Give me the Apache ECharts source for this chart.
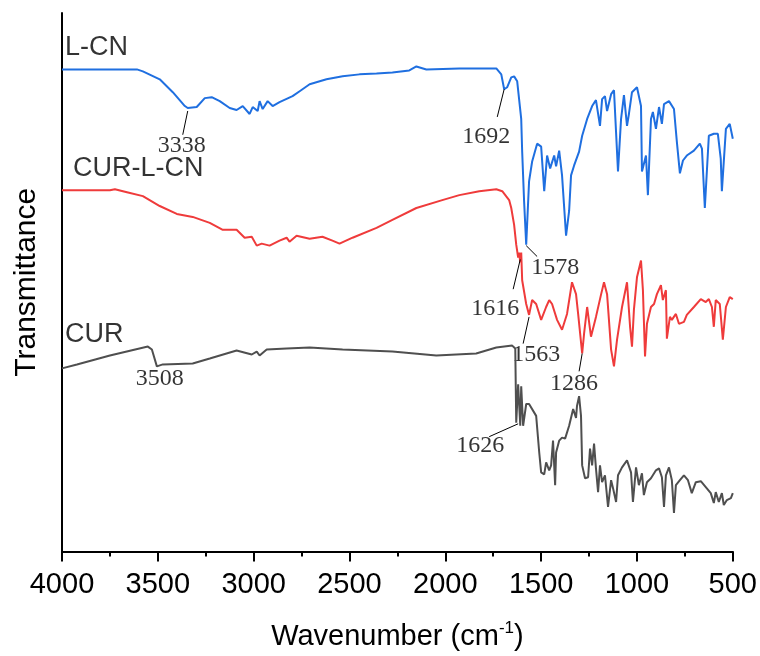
<!DOCTYPE html>
<html>
<head>
<meta charset="utf-8">
<script src="https://cdn.jsdelivr.net/npm/echarts@6/dist/echarts.min.js"></script>
<style>
  html, body { margin: 0; padding: 0; background: #fff; }
  #main { width: 760px; height: 656px; }
</style>
</head>
<body>
<div id="main"></div>
<script>
// FTIR spectra, [wavenumber, transmittance (offset, arb. units)]
const lcn = [
  [4000,487],[3609,487],[3578,485],[3490,477],[3422,464],[3359,450],[3344,448],[3297,449],
  [3255,458],[3219,459],[3177,455],[3125,448],[3089,446],[3057,450],[3021,442],[3005,449],
  [2979,445],[2969,455],[2953,447],[2927,455],[2901,450],[2865,454],[2797,460],[2760,465],
  [2708,472],[2620,477],[2536,480],[2448,482],[2359,483],[2276,484],[2188,486],[2151,490],
  [2099,487],[1927,488],[1734,488],[1708,482],[1693,467],[1677,469],[1656,479],[1641,480],
  [1625,475],[1604,437],[1599,404],[1589,354],[1578,310],[1563,374],[1547,394],[1521,412],
  [1500,409],[1484,364],[1469,400],[1453,387],[1432,400],[1422,389],[1406,405],[1391,380],
  [1370,319],[1354,344],[1344,380],[1328,390],[1302,404],[1286,420],[1260,437],[1234,450],
  [1214,456],[1193,430],[1182,457],[1167,460],[1156,445],[1135,462],[1120,466],[1099,384],
  [1083,437],[1068,461],[1052,430],[1042,442],[1026,464],[1000,469],[979,450],[974,384],
  [953,400],[943,360],[927,437],[917,444],[901,427],[885,449],[870,432],[859,452],
  [833,455],[807,447],[792,414],[776,382],[760,395],[740,400],[703,405],[672,412],
  [661,407],[646,347],[625,420],[599,422],[578,422],[563,397],[557,364],[536,427],
  [516,432],[500,417]
]

const curlcn = [
  [4000,365],[3750,365],[3724,366],[3661,363],[3578,359],[3490,349],[3401,341],[3318,338],
  [3229,332],[3161,325],[3089,325],[3047,317],[3010,318],[2984,309],[2958,311],[2917,309],
  [2865,314],[2828,317],[2813,313],[2776,319],[2708,316],[2641,318],[2589,314],[2552,311],
  [2484,317],[2359,327],[2276,335],[2151,347],[2016,355],[1927,360],[1823,364],[1734,366],
  [1703,364],[1667,355],[1656,347],[1641,330],[1630,310],[1620,297],[1615,302],[1609,292],
  [1604,302],[1599,274],[1578,250],[1563,239],[1547,254],[1526,250],[1500,234],[1474,247],
  [1458,254],[1443,250],[1417,234],[1391,224],[1365,240],[1339,272],[1318,260],[1307,240],
  [1286,200],[1276,220],[1260,247],[1240,217],[1214,237],[1187,260],[1172,272],[1156,260],
  [1135,204],[1120,187],[1104,214],[1078,247],[1052,272],[1036,227],[1026,207],[1016,244],
  [1000,277],[979,294],[969,264],[958,197],[948,230],[927,247],[911,250],[896,260],
  [875,269],[865,254],[849,264],[844,215],[828,237],[818,234],[797,240],[781,230],
  [755,232],[740,239],[703,247],[667,255],[641,252],[625,255],[609,247],[599,227],
  [589,254],[568,250],[552,214],[536,247],[516,257],[500,255]
]

const cur = [
  [4000,185],[3922,189],[3750,198],[3552,207],[3531,204],[3505,187],[3474,189],[3318,190],
  [3229,195],[3089,203],[3010,199],[2984,202],[2969,198],[2932,204],[2828,205],[2708,206],
  [2536,204],[2276,202],[2047,198],[1839,200],[1734,206],[1651,208],[1635,205],[1630,130],
  [1620,169],[1609,127],[1604,167],[1594,127],[1578,149],[1563,149],[1526,137],[1510,100],
  [1500,80],[1484,78],[1474,90],[1458,82],[1448,87],[1438,112],[1427,67],[1422,100],
  [1406,112],[1391,115],[1375,114],[1354,127],[1333,144],[1318,135],[1313,147],[1302,157],
  [1292,137],[1286,87],[1271,74],[1255,75],[1245,104],[1234,87],[1224,109],[1214,84],
  [1203,60],[1193,87],[1182,70],[1167,77],[1151,45],[1135,72],[1125,64],[1109,50],
  [1099,77],[1078,85],[1052,92],[1031,80],[1021,50],[1005,85],[990,67],[974,79],
  [964,57],[948,70],[927,74],[901,82],[885,84],[870,75],[859,45],[849,77],
  [833,85],[818,72],[807,39],[797,67],[776,72],[755,77],[734,72],[714,59],
  [693,70],[667,71],[641,65],[615,59],[599,49],[589,60],[573,50],[557,59],
  [547,47],[531,52],[510,54],[500,59]
]

const xTicks = [4000, 3500, 3000, 2500, 2000, 1500, 1000, 500]

// peak labels: text, text position, leader start, leader end
const peaks = [
  ['3338', [3375, 410], [3344, 445], [3370, 421]],
  ['1692', [1786, 419], [1693, 467], [1729, 439]],
  ['1578', [1427, 287], [1578, 309], [1521, 298]],
  ['1616', [1740, 245], [1609, 295], [1646, 265]],
  ['1563', [1526, 199], [1563, 237], [1594, 210]],
  ['1286', [1328, 170], [1286, 200], [1302, 182]],
  ['1626', [1818, 107], [1620, 129], [1771, 116]],
  ['3508', [3490, 175], null, null]
]

const names = [
  ['L-CN', [3984, 509]],
  ['CUR-L-CN', [3943, 387]],
  ['CUR', [3984, 219]]
]

const chart = echarts.init(document.getElementById('main'))

const spec = (data, color) => ({
  type: 'line',
  data: data,
  showSymbol: false,
  symbol: 'none',
  lineStyle: { color: color, width: 2 },
  silent: true
})

const leaders = peaks.filter(p => p[2]).map(p => ({
  type: 'line',
  data: [p[2], p[3]],
  symbol: 'none',
  lineStyle: { color: '#000', width: 1 },
  silent: true
}))

const option = {
  animation: false,
  backgroundColor: '#fff',
  grid: { left: 62, right: 26, top: 13, bottom: 99 },
  xAxis: {
    type: 'value',
    inverse: true,
    min: 500,
    max: 4000,
    interval: 500,
    name: '{b|Wavenumber (cm}{s|-1}{b|)}',
    nameLocation: 'middle',
    nameGap: 68,
    nameTextStyle: {
      rich: {
        b: { fontFamily: 'Liberation Sans', fontSize: 29, color: '#000', lineHeight: 34 },
        s: { fontFamily: 'Liberation Sans', fontSize: 17, color: '#000', verticalAlign: 'top', lineHeight: 22 }
      }
    },
    axisLine: { lineStyle: { color: '#000', width: 2 } },
    axisTick: { inside: false, length: 10, lineStyle: { color: '#000', width: 2 } },
    minorTick: { show: true, splitNumber: 2, length: 5, lineStyle: { color: '#000', width: 2 } },
    axisLabel: {
      margin: 19,
      fontFamily: 'Liberation Sans',
      fontSize: 29,
      color: '#000',
      formatter: v => String(v)
    },
    splitLine: { show: false }
  },
  yAxis: {
    type: 'value',
    min: 0,
    max: 544,
    name: 'Transmittance',
    nameLocation: 'middle',
    nameGap: 20,
    nameTextStyle: { fontFamily: 'Liberation Sans', fontSize: 30, color: '#000' },
    axisLine: { show: true, lineStyle: { color: '#000', width: 2 } },
    axisTick: { show: false },
    axisLabel: { show: false },
    splitLine: { show: false }
  },
  series: [
    spec(lcn, '#1f6fe0'),
    spec(curlcn, '#ef3b3b'),
    spec(cur, '#4f4f4f'),
    ...leaders,
    {
      type: 'scatter',
      symbolSize: 0,
      silent: true,
      data: peaks.map(p => ({ value: p[1], name: p[0] })),
      label: {
        show: true,
        position: [0, 0],
        align: 'center',
        verticalAlign: 'middle',
        formatter: '{b}',
        fontFamily: 'Liberation Serif',
        fontSize: 24,
        color: '#000'
      }
    },
    {
      type: 'scatter',
      symbolSize: 0,
      silent: true,
      data: names.map(n => ({ value: n[1], name: n[0] })),
      label: {
        show: true,
        position: [0, 0],
        align: 'left',
        verticalAlign: 'middle',
        formatter: '{b}',
        fontFamily: 'Liberation Sans',
        fontSize: 27,
        color: '#000'
      }
    }
  ]
}

chart.setOption(option)
</script>
</body>
</html>
